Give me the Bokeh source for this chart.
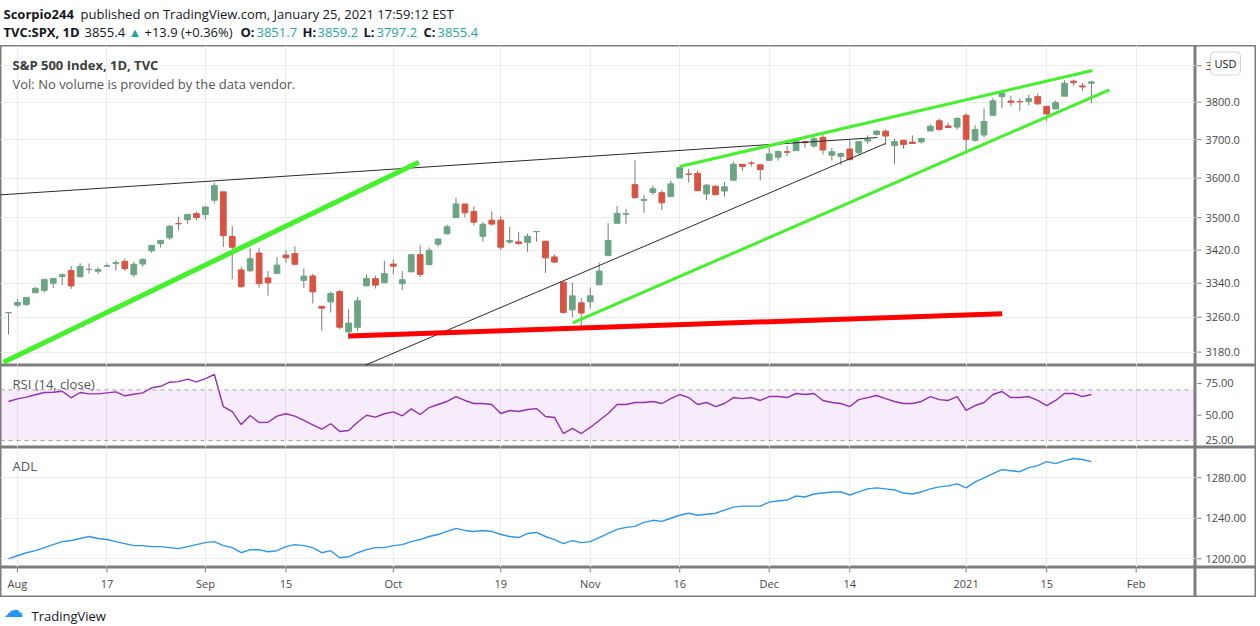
import pandas as pd
from bokeh.plotting import figure
from bokeh.models import (Range1d, FixedTicker, Label, BoxAnnotation, Span, ColumnDataSource)
from bokeh.layouts import column, row
from bokeh.embed import file_html
from bokeh.resources import INLINE
from bokeh.core.properties import value

# ---------------- data ----------------
holidays = ["2020-09-07", "2020-11-26", "2020-12-25", "2021-01-01", "2021-01-18"]
calendar = [d.strftime("%Y-%m-%d") for d in pd.bdate_range("2020-07-31", "2021-02-05")
            if d.strftime("%Y-%m-%d") not in holidays]

opens = [3270.45, 3288.26, 3289.92, 3317.37, 3323.17, 3340.05, 3356.04, 3370.34, 3355.46, 3372.95,
         3368.66, 3380.86, 3387.04, 3392.51, 3360.48, 3386.01, 3418.09, 3435.95, 3449.97, 3485.14,
         3494.69, 3509.73, 3507.44, 3543.76, 3564.74, 3453.60, 3371.88, 3369.82, 3412.56, 3352.70,
         3363.56, 3407.73, 3411.23, 3346.86, 3357.38, 3285.57, 3295.75, 3320.11, 3226.14, 3236.66,
         3333.90, 3350.92, 3341.21, 3385.87, 3338.94, 3367.27, 3408.74, 3384.56, 3434.28, 3459.67,
         3500.02, 3534.01, 3515.47, 3453.72, 3493.50, 3493.66, 3439.38, 3439.91, 3438.50, 3464.90,
         3441.42, 3403.15, 3342.48, 3277.17, 3293.59, 3296.20, 3336.25, 3406.46, 3485.74, 3508.34,
         3583.04, 3543.26, 3563.22, 3562.67, 3552.57, 3600.16, 3610.31, 3612.09, 3559.41, 3579.31,
         3566.82, 3594.52, 3635.50, 3638.55, 3634.18, 3645.87, 3653.78, 3668.28, 3670.94, 3694.73,
         3683.05, 3705.98, 3659.13, 3656.08, 3675.27, 3666.41, 3696.25, 3713.65, 3722.39, 3684.28,
         3698.08, 3693.42, 3694.03, 3723.03, 3750.01, 3736.19, 3733.27, 3764.61, 3698.02, 3712.20,
         3764.71, 3815.05, 3803.14, 3801.62, 3802.23, 3814.98, 3788.73, 3781.88, 3816.22, 3857.46,
         3844.24, 3851.68]
highs = [3272.17, 3302.73, 3306.84, 3330.77, 3351.03, 3352.54, 3363.29, 3381.01, 3387.89, 3387.24,
         3378.51, 3387.59, 3395.06, 3399.54, 3390.80, 3399.96, 3432.09, 3444.21, 3481.07, 3501.38,
         3509.23, 3514.77, 3528.03, 3588.11, 3564.85, 3479.15, 3379.97, 3424.77, 3425.55, 3368.95,
         3402.93, 3419.48, 3428.92, 3375.17, 3362.27, 3285.57, 3320.31, 3323.35, 3278.70, 3306.88,
         3360.74, 3357.92, 3393.56, 3397.18, 3369.10, 3409.57, 3431.56, 3426.26, 3447.28, 3482.34,
         3549.85, 3534.01, 3527.94, 3489.08, 3515.76, 3502.42, 3476.93, 3464.86, 3460.53, 3466.46,
         3441.42, 3409.51, 3342.48, 3341.05, 3304.93, 3330.14, 3389.49, 3486.25, 3529.05, 3521.58,
         3645.99, 3557.22, 3581.16, 3569.02, 3593.66, 3628.51, 3623.11, 3619.09, 3585.22, 3581.23,
         3589.81, 3642.31, 3635.50, 3644.31, 3634.18, 3678.45, 3670.96, 3682.73, 3699.20, 3697.41,
         3708.45, 3712.39, 3678.49, 3665.91, 3697.61, 3695.29, 3711.27, 3725.12, 3726.70, 3702.90,
         3698.26, 3711.24, 3703.82, 3740.51, 3756.12, 3744.63, 3760.20, 3769.99, 3737.83, 3783.04,
         3811.55, 3826.69, 3817.86, 3810.78, 3820.96, 3823.60, 3788.73, 3804.53, 3859.75, 3861.45,
         3852.31, 3859.23]
lows = [3220.26, 3284.53, 3286.37, 3317.37, 3318.14, 3328.72, 3335.44, 3326.44, 3355.46, 3363.35,
        3361.64, 3379.22, 3370.15, 3369.66, 3354.69, 3379.31, 3413.13, 3425.84, 3444.15, 3468.35,
        3484.32, 3493.25, 3494.60, 3535.23, 3427.41, 3349.63, 3329.27, 3366.84, 3329.25, 3310.47,
        3363.56, 3389.25, 3384.45, 3328.82, 3292.40, 3229.10, 3270.95, 3232.57, 3209.45, 3228.44,
        3332.91, 3327.54, 3340.47, 3361.39, 3323.69, 3367.27, 3354.54, 3384.56, 3428.15, 3458.07,
        3499.61, 3500.86, 3480.55, 3440.89, 3480.45, 3419.93, 3435.65, 3433.06, 3415.34, 3440.45,
        3364.86, 3388.71, 3268.89, 3259.82, 3233.94, 3279.74, 3336.25, 3405.17, 3485.74, 3484.34,
        3547.48, 3511.91, 3557.00, 3518.58, 3552.57, 3600.16, 3588.68, 3567.33, 3543.84, 3556.85,
        3552.77, 3594.52, 3617.76, 3629.33, 3594.39, 3645.87, 3644.84, 3657.17, 3670.94, 3678.88,
        3678.83, 3660.54, 3645.18, 3633.40, 3645.84, 3659.62, 3688.57, 3710.87, 3685.84, 3636.48,
        3676.16, 3689.28, 3689.32, 3723.03, 3723.31, 3730.21, 3726.88, 3662.71, 3695.07, 3705.34,
        3764.71, 3783.60, 3789.02, 3776.51, 3791.50, 3792.86, 3749.62, 3780.37, 3816.22, 3845.05,
        3830.41, 3797.16]
closes = [3271.12, 3294.61, 3306.51, 3327.77, 3349.16, 3351.28, 3360.47, 3333.69, 3380.35, 3373.43,
          3372.85, 3381.99, 3389.78, 3374.85, 3385.51, 3397.16, 3431.28, 3443.62, 3478.73, 3484.55,
          3508.01, 3500.31, 3526.65, 3580.84, 3455.06, 3426.96, 3331.84, 3398.96, 3339.19, 3340.97,
          3383.54, 3401.20, 3385.49, 3357.01, 3319.47, 3281.06, 3315.57, 3236.92, 3246.59, 3298.46,
          3351.60, 3335.47, 3363.00, 3380.80, 3348.42, 3408.60, 3360.97, 3419.44, 3446.83, 3477.14,
          3534.22, 3511.93, 3488.67, 3483.34, 3483.81, 3426.92, 3443.12, 3435.56, 3453.49, 3465.39,
          3400.97, 3390.68, 3271.03, 3310.11, 3269.96, 3310.24, 3369.16, 3443.44, 3510.45, 3509.44,
          3550.50, 3545.53, 3572.66, 3537.01, 3585.15, 3626.91, 3609.53, 3567.79, 3581.87, 3557.54,
          3577.59, 3635.41, 3629.65, 3638.35, 3621.63, 3662.45, 3669.01, 3666.72, 3699.12, 3691.96,
          3702.25, 3672.82, 3668.10, 3663.46, 3647.49, 3694.62, 3701.17, 3722.48, 3709.41, 3694.92,
          3687.26, 3690.01, 3703.06, 3735.36, 3727.04, 3732.04, 3756.07, 3700.65, 3726.86, 3748.14,
          3803.79, 3824.68, 3799.61, 3801.19, 3809.84, 3795.54, 3768.25, 3798.91, 3851.85, 3853.07,
          3841.47, 3855.36]

rsi = [60.8, 62.9, 64.2, 66.1, 67.9, 68.1, 68.9, 63.7, 67.9, 66.8, 66.8, 67.6, 68.4, 65.3, 66.5,
       67.6, 71.6, 72.8, 76.0, 76.5, 78.4, 76.3, 78.9, 82.1, 56.8, 52.8, 42.6, 49.7, 44.2, 44.4,
       49.2, 51.1, 49.2, 45.8, 42.4, 38.9, 43.2, 37.1, 37.9, 44.4, 49.9, 48.4, 51.1, 52.6, 49.5,
       55.0, 50.5, 56.0, 58.4, 60.8, 64.7, 61.6, 59.2, 59.2, 58.4, 51.3, 53.7, 52.9, 54.5, 55.2,
       49.0, 48.2, 35.5, 39.5, 35.5, 40.3, 45.8, 51.3, 58.4, 58.4, 60.0, 60.0, 60.8, 59.2, 63.1,
       66.3, 63.9, 58.4, 60.0, 56.8, 59.2, 63.9, 63.1, 63.9, 61.6, 64.7, 64.7, 63.9, 67.1, 66.3,
       67.1, 61.6, 60.0, 59.2, 56.8, 62.3, 63.9, 65.5, 63.1, 60.8, 59.2, 59.2, 60.8, 64.7, 62.3,
       61.6, 64.7, 53.7, 57.6, 60.0, 66.3, 68.7, 63.9, 63.9, 64.7, 61.6, 57.6, 61.6, 67.1, 67.1,
       64.7, 66.3]

adl = [1200, 1203, 1206, 1208, 1211, 1214, 1217, 1218, 1220, 1222, 1220, 1219, 1217, 1215, 1213,
       1213, 1212, 1212, 1211, 1210, 1212, 1214, 1216, 1217, 1213, 1211, 1206, 1209, 1209, 1207,
       1208, 1212, 1214, 1213, 1211, 1206, 1208, 1201, 1202, 1206, 1209, 1211, 1211, 1213, 1214,
       1217, 1219, 1222, 1224, 1227, 1230, 1228, 1227, 1228, 1227, 1224, 1222, 1221, 1225, 1226,
       1222, 1219, 1215, 1218, 1216, 1217, 1221, 1225, 1229, 1231, 1232, 1236, 1238, 1237, 1240,
       1243, 1245, 1243, 1244, 1245, 1248, 1251, 1252, 1252, 1252, 1256, 1257, 1258, 1262, 1261,
       1264, 1265, 1266, 1266, 1263, 1266, 1269, 1270, 1269, 1268, 1265, 1264, 1266, 1269, 1271,
       1272, 1274, 1270, 1276, 1280, 1284, 1288, 1287, 1286, 1290, 1292, 1296, 1294, 1297, 1299,
       1298, 1296]

tick_dates = ["2020-08-03", "2020-08-17", "2020-09-01", "2020-09-15", "2020-10-01", "2020-10-19",
              "2020-11-02", "2020-11-16", "2020-12-01", "2020-12-14", "2021-01-04", "2021-01-15",
              "2021-02-01"]
tick_text = ["Aug", "17", "Sep", "15", "Oct", "19", "Nov", "16", "Dec", "14", "2021", "15", "Feb"]

price_ticks = [3180, 3260, 3340, 3420, 3500, 3600, 3700, 3800, 3900]
rsi_ticks = [25, 50, 75]
adl_ticks = [1200, 1240, 1280]

# drawings on the chart (bar index, price)
black_upper_x, black_upper_y = [-1.0, 97.1], [3557.0, 3705.6]
black_lower_x, black_lower_y = [39.8, 98.0], [3149.9, 3689.8]
green_left_x, green_left_y = [-0.56, 45.84], [3157.0, 3640.9]
red_support_x, red_support_y = [38.02, 111.03], [3217.0, 3268.0]
green_low_x, green_low_y = [63.05, 123.0], [3247.0, 3833.7]
green_up_x, green_up_y = [75.0, 121.1], [3629.8, 3886.8]

# ---------------- derived ----------------
n = len(closes)
idx = list(range(n))
tick_pos = [calendar.index(d) for d in tick_dates]
UP, DOWN, WICK = "#6ba583", "#d75442", "#7b7b7b"
src = ColumnDataSource(dict(
    x=idx, h=highs, l=lows,
    top=[max(o, c) for o, c in zip(opens, closes)],
    bottom=[min(o, c) for o, c in zip(opens, closes)],
    color=[UP if c >= o else DOWN for o, c in zip(opens, closes)]))

FONT = "Open Sans"
TXT = "#474747"
GRID = "#ececec"
BORDER = "#7d7d7d"
BLACK = "#131722"
TEAL = "#26a69a"
LIME = "#45f02c"
TW = 1256          # total width
PW = 1195          # pane width
AW = TW - PW       # price-scale column width
xr = Range1d(-0.894, 132.63)


def base(w, h, xrange, yrange, ytype="linear", outline=True):
    f = figure(width=w, height=h, x_range=xrange, y_range=yrange, y_axis_type=ytype,
               x_axis_location=None, y_axis_location=None, toolbar_location=None,
               output_backend="svg", min_border=0)
    f.outline_line_color = BORDER if outline else None
    f.outline_line_width = 2
    f.background_fill_color = "white"
    f.border_fill_color = "white"
    return f


def pane(h, yr, ticks, ytype="linear", hgrid=True):
    f = base(PW, h, xr, yr, ytype)
    f.xgrid.ticker = FixedTicker(ticks=tick_pos)
    f.ygrid.ticker = FixedTicker(ticks=ticks)
    f.grid.grid_line_color = GRID
    if not hgrid:
        f.ygrid.grid_line_color = None
    return f


def scale_col(h, yr, ticks, decimals, ytype="linear", bottom_label=False):
    f = base(AW, h, Range1d(0, AW), yr, ytype)
    f.grid.visible = False
    f.segment(x0=2, y0=ticks, x1=6, y1=ticks, line_color=BORDER, line_width=1)
    mid = ticks[1:] if bottom_label else ticks
    f.text(x=10, y=mid, text=[f"{t:.{decimals}f}" for t in mid],
           text_font=value(FONT), text_font_size="11px", text_color=TXT,
           text_baseline="middle", text_align="left")
    if bottom_label:
        # lowest label sits on the pane's lower edge: lift it so it stays readable
        f.text(x=10, y=ticks[:1], text=[f"{t:.{decimals}f}" for t in ticks[:1]],
               text_font=value(FONT), text_font_size="11px", text_color=TXT,
               text_baseline="bottom", text_align="left", y_offset=-3)
    return f


def tag(p, x, y, text, size="13px", color=TXT, bold=False):
    p.add_layout(Label(x=x, y=y, x_units="screen", y_units="screen", text=text,
                       text_font=FONT, text_font_size=size, text_color=color,
                       text_font_style="bold" if bold else "normal",
                       text_baseline="middle", text_align="left"))


# ---------------- header ----------------
HH = 45
hdr = base(TW, HH, Range1d(0, TW), Range1d(HH, 0), outline=False)
hdr.grid.visible = False
segments = [
    (3, 13, "Scorpio244", BLACK, True),
    (80, 13, "published on TradingView.com, January 25, 2021 17:59:12 EST", BLACK, False),
    (3, 31.5, "TVC:SPX, 1D", BLACK, True),
    (84, 31.5, "3855.4", BLACK, False),
    (128, 31.5, "▲", TEAL, False),
    (144, 31.5, "+13.9 (+0.36%)", BLACK, False),
    (240, 31.5, "O:", BLACK, True),
    (256, 31.5, "3851.7", TEAL, False),
    (302, 31.5, "H:", BLACK, True),
    (317, 31.5, "3859.2", TEAL, False),
    (363, 31.5, "L:", BLACK, True),
    (376, 31.5, "3797.2", TEAL, False),
    (423, 31.5, "C:", BLACK, True),
    (437, 31.5, "3855.4", TEAL, False),
]
for x, y, t, c, b in segments:
    hdr.add_layout(Label(x=x, y=y, text=t, text_font=FONT, text_font_size="13px",
                         text_color=c, text_font_style="bold" if b else "normal",
                         text_baseline="middle", text_align="left"))

# ---------------- main (price, log scale) ----------------
MH = 320
main_yr = Range1d(3149.8, 3956.7)
main = pane(MH, main_yr, price_ticks, ytype="log")
main.segment(x0="x", y0="h", x1="x", y1="l", line_color=WICK, line_width=1, source=src)
main.vbar(x="x", width=0.64, top="top", bottom="bottom", fill_color="color",
          line_color="color", source=src)
main.line(black_upper_x, black_upper_y, line_color="#2a2a2a", line_width=1)
main.line(black_lower_x, black_lower_y, line_color="#2a2a2a", line_width=1)
main.line(green_left_x, green_left_y, line_color=LIME, line_width=5)
main.line(red_support_x, red_support_y, line_color="#ff0000", line_width=5)
main.line(green_low_x, green_low_y, line_color=LIME, line_width=3)
main.line(green_up_x, green_up_y, line_color=LIME, line_width=3)
tag(main, 12, MH - 19, "S&P 500 Index, 1D, TVC", color="#3d3d3d", bold=True)
tag(main, 12, MH - 38, "Vol: No volume is provided by the data vendor.", color="#555555")
main_ax = scale_col(MH, main_yr, price_ticks, 1, ytype="log")
main_ax.add_layout(Label(x=15, y=MH - 18, x_units="screen", y_units="screen",
                         text="USD", text_font=FONT, text_font_size="11px", text_color=BLACK,
                         text_baseline="middle", text_align="left",
                         background_fill_color="white", border_line_color="#d4d4d4",
                         padding=4, border_radius=4))

# ---------------- RSI ----------------
RH = 82
rsi_yr = Range1d(24.47, 89.21)
rp = pane(RH, rsi_yr, rsi_ticks, hgrid=False)
rp.add_layout(BoxAnnotation(bottom=30, top=70, fill_color="#9c27e0", fill_alpha=0.09,
                            line_color=None))
for lv in (30, 70):
    rp.add_layout(Span(location=lv, dimension="width", line_color="#a3a3a3",
                       line_dash="4 4", line_width=1))
rp.line(idx, rsi, line_color="#962fae", line_width=1.4)
tag(rp, 12, RH - 18, "RSI (14, close)", color="#555555")
rsi_ax = scale_col(RH, rsi_yr, rsi_ticks, 2, bottom_label=True)

# ---------------- ADL ----------------
AH = 120
adl_yr = Range1d(1191.4, 1309.9)
ap = pane(AH, adl_yr, adl_ticks)
ap.line(idx, adl, line_color="#2f96e8", line_width=1.4)
tag(ap, 12, AH - 18, "ADL", color="#555555")
adl_ax = scale_col(AH, adl_yr, adl_ticks, 2)

# ---------------- time scale ----------------
TH = 30
tm = base(PW, TH, xr, Range1d(TH, 0))
tm.grid.visible = False
tm.segment(x0=tick_pos, y0=1, x1=tick_pos, y1=5, line_color=BORDER, line_width=1)
tm.text(x=tick_pos, y=16, text=tick_text, text_font=value(FONT), text_font_size="11px",
        text_color=TXT, text_align="center", text_baseline="middle")
corner = base(AW, TH, Range1d(0, 1), Range1d(0, 1))
corner.grid.visible = False

# ---------------- footer ----------------
FH = 29
ftr = base(TW, FH, Range1d(0, TW), Range1d(FH, 0), outline=False)
ftr.grid.visible = False
ftr.add_layout(Label(x=3, y=12, text="☁", text_font="DejaVu Sans", text_font_size="20px",
                     text_color="#2196f3", text_baseline="middle", text_align="left"))
ftr.add_layout(Label(x=31, y=18, text="TradingView", text_font=FONT, text_font_size="13px",
                     text_color=BLACK, text_baseline="middle", text_align="left"))

page = column(hdr,
              row(main, main_ax, spacing=0),
              row(rp, rsi_ax, spacing=0),
              row(ap, adl_ax, spacing=0),
              row(tm, corner, spacing=0),
              ftr, spacing=0)

open("out.html", "w").write(file_html(page, INLINE))
